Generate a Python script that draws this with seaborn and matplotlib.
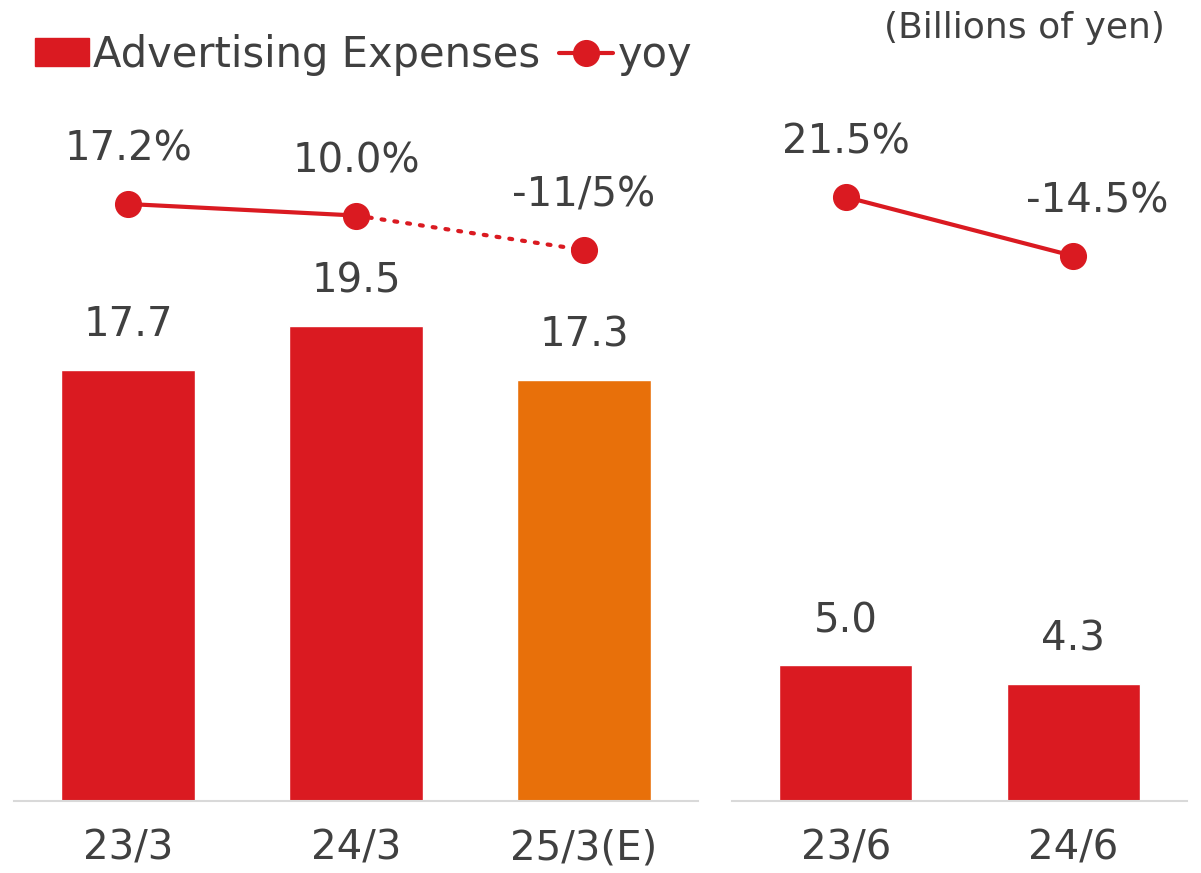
import matplotlib
matplotlib.use("Agg")
import matplotlib.pyplot as plt
import seaborn as sns
from matplotlib.patches import Patch
from matplotlib.lines import Line2D

# data
annual_periods = ["23/3", "24/3", "25/3(E)"]
annual_expenses = [17.7, 19.5, 17.3]
annual_yoy = [17.2, 10.0, -11.5]
annual_yoy_labels = ["17.2%", "10.0%", "-11/5%"]

quarter_periods = ["23/6", "24/6"]
quarter_expenses = [5.0, 4.3]
quarter_yoy = [21.5, -14.5]
quarter_yoy_labels = ["21.5%", "-14.5%"]

RED = "#DA1A21"
ORANGE = "#E8700A"
TXT = "#404040"
annual_colors = [RED, RED, ORANGE]
quarter_colors = [RED, RED]

sns.set_theme(style="white")
plt.rcParams['font.family'] = ['DejaVu Sans']

fig = plt.figure(figsize=(12.01, 8.73), dpi=100)
ax_l = fig.add_axes([0.0117, 0.0825, 0.5695, 0.803])
ax_r = fig.add_axes([0.6095, 0.0825, 0.3789, 0.803])


def draw_panel(ax, periods, values, colors, ymax, yoy, yoy_labels, yrange, dotted_last, label_dx):
    sns.barplot(x=periods, y=values, hue=periods, palette=colors, legend=False,
                width=0.586, saturation=1, ax=ax)
    ax.set_ylim(0, ymax)
    ax.set_xlim(-0.5, len(periods) - 0.5)
    for i, v in enumerate(values):
        ax.annotate(f"{v:.1f}", (i, v), xytext=(0, 32), textcoords="offset points",
                    ha="center", va="center", fontsize=29, color=TXT)
    for s in ["top", "left", "right"]:
        ax.spines[s].set_visible(False)
    ax.spines["bottom"].set_color("#D9D9D9")
    ax.spines["bottom"].set_linewidth(1.5)
    ax.set_yticks([])
    ax.set_xlabel("")
    ax.set_ylabel("")
    ax.tick_params(axis="x", length=0, pad=20, labelsize=29, labelcolor=TXT)

    tw = ax.twinx()
    tw.set_ylim(*yrange)
    tw.set_yticks([])
    for s in tw.spines.values():
        s.set_visible(False)
    xs = list(range(len(yoy)))
    n_solid = len(yoy) - 1 if dotted_last else len(yoy)
    sns.lineplot(x=xs[:n_solid], y=yoy[:n_solid], color=RED, lw=3, ax=tw)
    if dotted_last:
        tw.plot(xs[-2:], yoy[-2:], color=RED, lw=3, linestyle=(0, (0.7, 2.4)),
                dash_capstyle="round")
    tw.plot(xs, yoy, linestyle="none", marker="o", markersize=18.5, color=RED)
    for i, (v, lab) in enumerate(zip(yoy, yoy_labels)):
        tw.annotate(lab, (i, v), xytext=(label_dx[i], 39), textcoords="offset points",
                    ha="center", va="center", fontsize=29, color=TXT)


draw_panel(ax_l, annual_periods, annual_expenses, annual_colors, 701 / 24.36,
           annual_yoy, annual_yoy_labels, (-355.2, 82.1), True, [0, 0, 0])
draw_panel(ax_r, quarter_periods, quarter_expenses, quarter_colors, 701 / 27.1,
           quarter_yoy, quarter_yoy_labels, (-347.0, 80.7), False, [0, 17])

handles = [Patch(color=RED),
           Line2D([], [], color=RED, lw=3, marker="o", markersize=18.5)]
fig.legend(handles, ["Advertising Expenses", "yoy"], loc="center left",
           bbox_to_anchor=(0.029, 0.937), ncol=2, frameon=False, fontsize=30,
           labelcolor=TXT, handlelength=1.3, handleheight=0.65, handletextpad=0.1,
           columnspacing=0.45, borderaxespad=0, borderpad=0)
fig.text(0.97, 0.968, "(Billions of yen)", ha="right", va="center", fontsize=26, color=TXT)

fig.savefig("out.png", dpi=100)
